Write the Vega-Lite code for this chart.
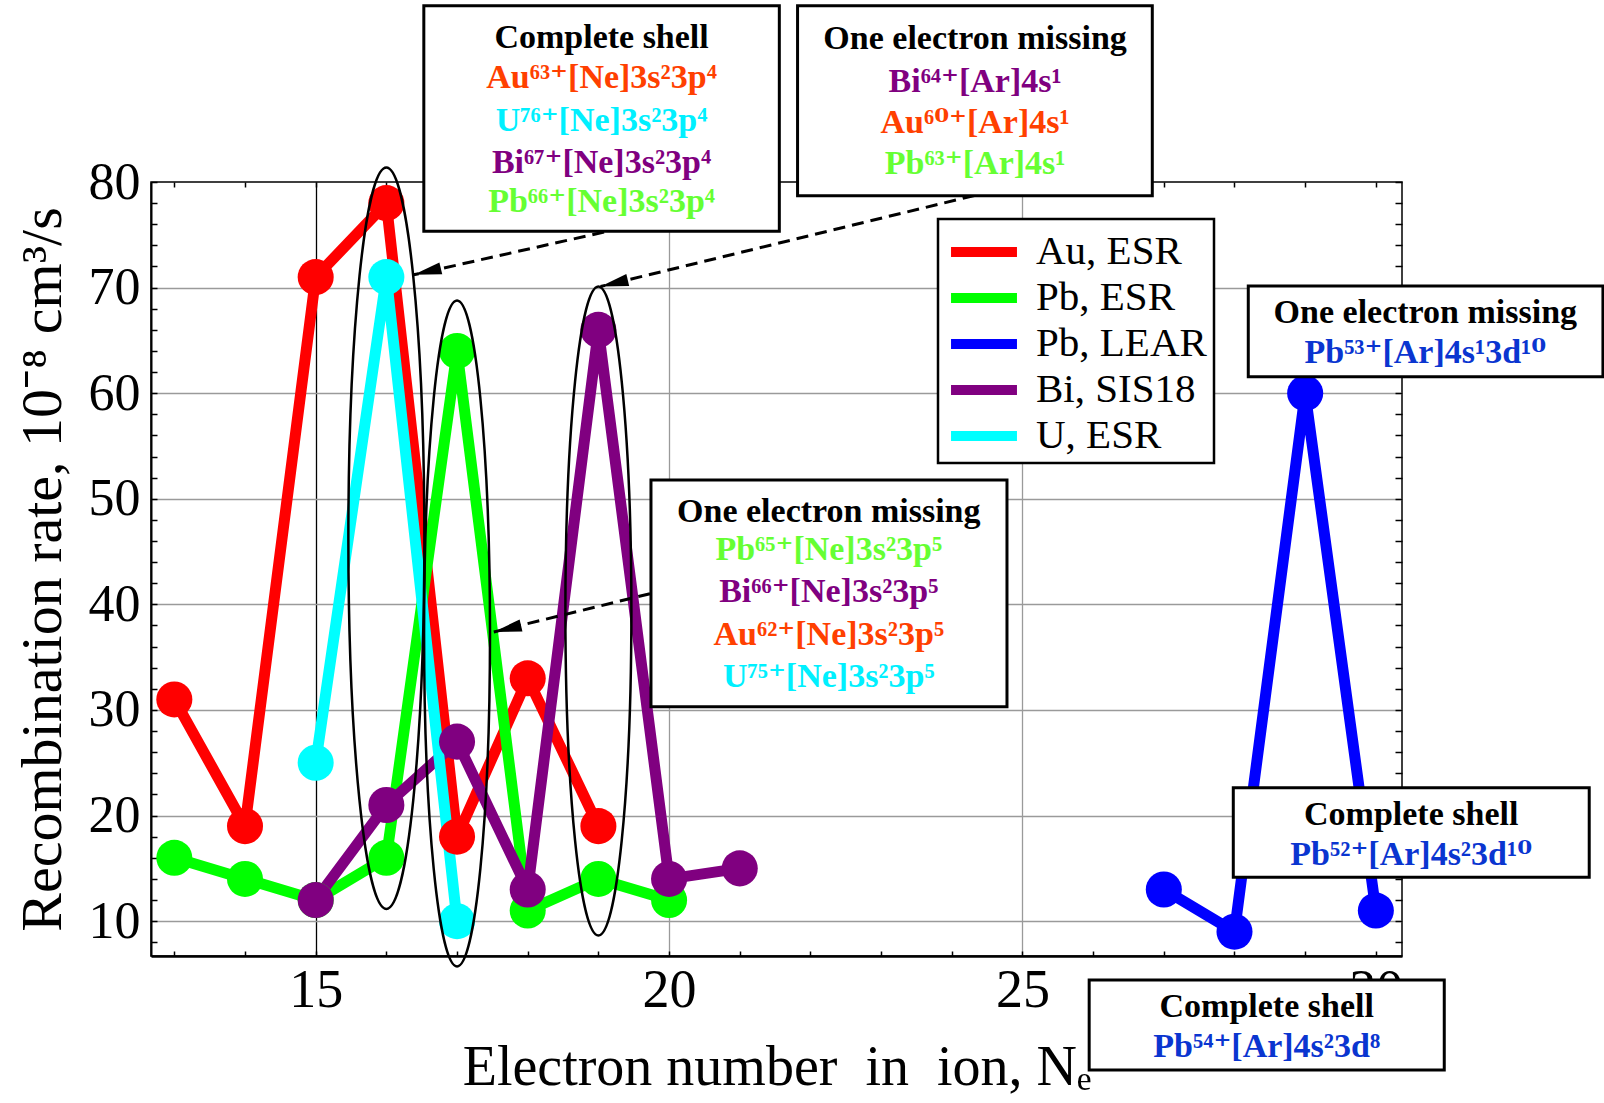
{
  "$schema": "https://vega.github.io/schema/vega-lite/v6.json",
  "width": 1251,
  "height": 774,
  "autosize": {"type": "none"},
  "padding": {"left": 151, "top": 182, "right": 202, "bottom": 147},
  "background": "white",
  "config": {
    "view": {"stroke": "black", "strokeWidth": 1.5},
    "font": "Liberation Serif",
    "legend": {"strokeWidth": 2.5}
  },
  "datasets": {
    "rates": [
      {"ne": 13, "rate": 31, "series": "Au, ESR"},
      {"ne": 14, "rate": 19, "series": "Au, ESR"},
      {"ne": 15, "rate": 71, "series": "Au, ESR"},
      {"ne": 16, "rate": 78, "series": "Au, ESR"},
      {"ne": 17, "rate": 18, "series": "Au, ESR"},
      {"ne": 18, "rate": 33, "series": "Au, ESR"},
      {"ne": 19, "rate": 19, "series": "Au, ESR"},
      {"ne": 13, "rate": 16, "series": "Pb, ESR"},
      {"ne": 14, "rate": 14, "series": "Pb, ESR"},
      {"ne": 15, "rate": 12, "series": "Pb, ESR"},
      {"ne": 16, "rate": 16, "series": "Pb, ESR"},
      {"ne": 17, "rate": 64, "series": "Pb, ESR"},
      {"ne": 18, "rate": 11, "series": "Pb, ESR"},
      {"ne": 19, "rate": 14, "series": "Pb, ESR"},
      {"ne": 20, "rate": 12, "series": "Pb, ESR"},
      {"ne": 27, "rate": 13, "series": "Pb, LEAR"},
      {"ne": 28, "rate": 9, "series": "Pb, LEAR"},
      {"ne": 29, "rate": 60, "series": "Pb, LEAR"},
      {"ne": 30, "rate": 11, "series": "Pb, LEAR"},
      {"ne": 15, "rate": 12, "series": "Bi, SIS18"},
      {"ne": 16, "rate": 21, "series": "Bi, SIS18"},
      {"ne": 17, "rate": 27, "series": "Bi, SIS18"},
      {"ne": 18, "rate": 13, "series": "Bi, SIS18"},
      {"ne": 19, "rate": 66, "series": "Bi, SIS18"},
      {"ne": 20, "rate": 14, "series": "Bi, SIS18"},
      {"ne": 21, "rate": 15, "series": "Bi, SIS18"},
      {"ne": 15, "rate": 25, "series": "U, ESR"},
      {"ne": 16, "rate": 71, "series": "U, ESR"},
      {"ne": 17, "rate": 10, "series": "U, ESR"}
    ],
    "boxes": [
      {"left": 16.53, "right": 21.56, "top": 96.7, "bottom": 75.33},
      {"left": 21.818, "right": 26.837, "top": 96.7, "bottom": 78.7},
      {"left": 19.744, "right": 24.781, "top": 51.78, "bottom": 30.31},
      {"left": 28.195, "right": 33.213, "top": 70.15, "bottom": 61.56},
      {"left": 27.983, "right": 33.019, "top": 22.64, "bottom": 14.15},
      {"left": 25.944, "right": 30.968, "top": 4.43, "bottom": -4.1}
    ],
    "notes": [
      {"cx": 19.045, "cy": 93.65, "ion": "head", "label": "Complete shell"},
      {"cx": 19.045, "cy": 89.88, "ion": "Au", "label": "Au⁶³⁺[Ne]3s²3p⁴"},
      {"cx": 19.045, "cy": 85.81, "ion": "U", "label": "U⁷⁶⁺[Ne]3s²3p⁴"},
      {"cx": 19.045, "cy": 81.83, "ion": "Bi", "label": "Bi⁶⁷⁺[Ne]3s²3p⁴"},
      {"cx": 19.045, "cy": 78.06, "ion": "Pb", "label": "Pb⁶⁶⁺[Ne]3s²3p⁴"},
      {"cx": 24.33, "cy": 93.55, "ion": "head", "label": "One electron missing"},
      {"cx": 24.33, "cy": 89.49, "ion": "Bi", "label": "Bi⁶⁴⁺[Ar]4s¹"},
      {"cx": 24.33, "cy": 85.61, "ion": "Au", "label": "Au⁶⁰⁺[Ar]4s¹"},
      {"cx": 24.33, "cy": 81.73, "ion": "Pb", "label": "Pb⁶³⁺[Ar]4s¹"},
      {"cx": 22.26, "cy": 48.78, "ion": "head", "label": "One electron missing"},
      {"cx": 22.26, "cy": 45.15, "ion": "Pb", "label": "Pb⁶⁵⁺[Ne]3s²3p⁵"},
      {"cx": 22.26, "cy": 41.2, "ion": "Bi", "label": "Bi⁶⁶⁺[Ne]3s²3p⁵"},
      {"cx": 22.26, "cy": 37.1, "ion": "Au", "label": "Au⁶²⁺[Ne]3s²3p⁵"},
      {"cx": 22.26, "cy": 33.15, "ion": "U", "label": "U⁷⁵⁺[Ne]3s²3p⁵"},
      {"cx": 30.7, "cy": 67.57, "ion": "head", "label": "One electron missing"},
      {"cx": 30.7, "cy": 63.78, "ion": "PbL", "label": "Pb⁵³⁺[Ar]4s¹3d¹⁰"},
      {"cx": 30.5, "cy": 20.05, "ion": "head", "label": "Complete shell"},
      {"cx": 30.5, "cy": 16.26, "ion": "PbL", "label": "Pb⁵²⁺[Ar]4s²3d¹⁰"},
      {"cx": 28.456, "cy": 1.9, "ion": "head", "label": "Complete shell"},
      {"cx": 28.456, "cy": -1.89, "ion": "PbL", "label": "Pb⁵⁴⁺[Ar]4s²3d⁸"}
    ],
    "arrows": [
      {"fromX": 19.08, "fromY": 75.26, "tipX": 16.385, "tipY": 71.21},
      {"fromX": 24.32, "fromY": 78.72, "tipX": 19.03, "tipY": 70.1},
      {"fromX": 19.73, "fromY": 41.01, "tipX": 17.52, "tipY": 37.39}
    ]
  },
  "resolve": {
    "scale": {"color": "independent"},
    "axis": {"x": "independent", "y": "independent"}
  },
  "layer": [
    {
      "data": {"name": "rates"},
      "mark": {"type": "line", "strokeWidth": 11, "strokeJoin": "round"},
      "encoding": {
        "x": {
          "field": "ne", "type": "quantitative",
          "scale": {"domain": [12.67, 30.37], "nice": false, "zero": false},
          "axis": {
            "orient": "bottom",
            "values": [13, 14, 15, 16, 17, 18, 19, 20, 21, 22, 23, 24, 25, 26, 27, 28, 29, 30],
            "labelExpr": "datum.value % 5 === 0 ? datum.label : ''",
            "title": "Electron number\u00a0\u00a0in\u00a0\u00a0ion, Nₑ",
            "titleFont": "Liberation Serif", "titleFontSize": 56, "titleFontWeight": "normal",
            "titleColor": "black", "titlePadding": 23,
            "labelFont": "Liberation Serif", "labelFontSize": 54, "labelColor": "black",
            "labelPadding": 12, "labelFlush": false, "labelOverlap": false,
            "tickSize": -5, "tickColor": "black", "tickWidth": 1.5,
            "domainColor": "black", "domainWidth": 2.5,
            "grid": true,
            "gridColor": {"condition": {"test": "datum.value === 15", "value": "black"}, "value": "#9a9a9a"},
            "gridOpacity": {"condition": {"test": "datum.value === 15 || datum.value === 20 || datum.value === 25", "value": 1}, "value": 0},
            "gridWidth": 1.3
          }
        },
        "y": {
          "field": "rate", "type": "quantitative",
          "scale": {"domain": [6.7, 80], "nice": false, "zero": false},
          "axis": {
            "orient": "left",
            "values": [8, 10, 12, 14, 16, 18, 20, 22, 24, 26, 28, 30, 32, 34, 36, 38, 40, 42, 44, 46, 48, 50, 52, 54, 56, 58, 60, 62, 64, 66, 68, 70, 72, 74, 76, 78, 80],
            "labelExpr": "datum.value % 10 === 0 ? datum.label : ''",
            "title": "Recombination rate, 10⁻⁸ cm³/s",
            "titleFont": "Liberation Serif", "titleFontSize": 58, "titleFontWeight": "normal",
            "titleColor": "black", "titlePadding": 16,
            "labelFont": "Liberation Serif", "labelFontSize": 52, "labelColor": "black",
            "labelPadding": 17, "labelFlush": false, "labelOverlap": false,
            "tickSize": -6, "tickColor": "black", "tickWidth": 1.5,
            "domainColor": "black", "domainWidth": 2,
            "grid": true, "gridColor": "#9a9a9a", "gridWidth": 1.3,
            "gridOpacity": {"condition": {"test": "datum.value % 10 === 0 && datum.value < 80", "value": 1}, "value": 0}
          }
        },
        "color": {
          "field": "series", "type": "nominal",
          "scale": {
            "domain": ["Au, ESR", "Pb, ESR", "Pb, LEAR", "Bi, SIS18", "U, ESR"],
            "range": ["#ff0000", "#00ff00", "#0000ff", "#800080", "#00ffff"]
          },
          "legend": {
            "orient": "none", "legendX": 787, "legendY": 37,
            "title": null,
            "symbolType": "M-1.57,0L1.57,0", "symbolSize": 1764, "symbolStrokeWidth": 10,
            "symbolOffset": 13,
            "labelFont": "Liberation Serif", "labelFontSize": 41, "labelColor": "black",
            "labelLimit": 400, "labelOffset": 26,
            "fillColor": "white", "strokeColor": "black",
            "padding": 7, "rowPadding": 0
          }
        }
      }
    },
    {
      "data": {"name": "rates"},
      "mark": {"type": "point", "filled": true, "shape": "circle", "size": 1300, "opacity": 1},
      "encoding": {
        "x": {"field": "ne", "type": "quantitative", "scale": {"domain": [12.67, 30.37], "nice": false, "zero": false}, "axis": null},
        "y": {"field": "rate", "type": "quantitative", "scale": {"domain": [6.7, 80], "nice": false, "zero": false}, "axis": null},
        "fill": {
          "field": "series", "type": "nominal",
          "scale": {
            "domain": ["Au, ESR", "Pb, ESR", "Pb, LEAR", "Bi, SIS18", "U, ESR"],
            "range": ["#ff0000", "#00ff00", "#0000ff", "#800080", "#00ffff"]
          },
          "legend": null
        }
      }
    },
    {
      "data": {"values": [{"ne": 16, "rate": 46.26}]},
      "mark": {"type": "point", "filled": false, "color": "black", "strokeWidth": 2.5, "opacity": 1, "size": 549674,
        "shape": "M0,-1C0.0566,-1,0.1025,-0.5523,0.1025,0C0.1025,0.5523,0.0566,1,0,1C-0.0566,1,-0.1025,0.5523,-0.1025,0C-0.1025,-0.5523,-0.0566,-1,0,-1Z"},
      "encoding": {
        "x": {"field": "ne", "type": "quantitative", "scale": {"domain": [12.67, 30.37], "nice": false, "zero": false}, "axis": null},
        "y": {"field": "rate", "type": "quantitative", "scale": {"domain": [6.7, 80], "nice": false, "zero": false}, "axis": null}
      }
    },
    {
      "data": {"values": [{"ne": 17, "rate": 37.24}]},
      "mark": {"type": "point", "filled": false, "color": "black", "strokeWidth": 2.5, "opacity": 1, "size": 443556,
        "shape": "M0,-1C0.0547,-1,0.099,-0.5523,0.099,0C0.099,0.5523,0.0547,1,0,1C-0.0547,1,-0.099,0.5523,-0.099,0C-0.099,-0.5523,-0.0547,-1,0,-1Z"},
      "encoding": {
        "x": {"field": "ne", "type": "quantitative", "scale": {"domain": [12.67, 30.37], "nice": false, "zero": false}, "axis": null},
        "y": {"field": "rate", "type": "quantitative", "scale": {"domain": [6.7, 80], "nice": false, "zero": false}, "axis": null}
      }
    },
    {
      "data": {"values": [{"ne": 19, "rate": 39.37}]},
      "mark": {"type": "point", "filled": false, "color": "black", "strokeWidth": 2.5, "opacity": 1, "size": 421201,
        "shape": "M0,-1C0.0562,-1,0.1017,-0.5523,0.1017,0C0.1017,0.5523,0.0562,1,0,1C-0.0562,1,-0.1017,0.5523,-0.1017,0C-0.1017,-0.5523,-0.0562,-1,0,-1Z"},
      "encoding": {
        "x": {"field": "ne", "type": "quantitative", "scale": {"domain": [12.67, 30.37], "nice": false, "zero": false}, "axis": null},
        "y": {"field": "rate", "type": "quantitative", "scale": {"domain": [6.7, 80], "nice": false, "zero": false}, "axis": null}
      }
    },
    {
      "data": {"name": "arrows"},
      "mark": {"type": "rule", "color": "black", "strokeWidth": 3, "strokeDash": [12, 7]},
      "encoding": {
        "x": {"field": "fromX", "type": "quantitative", "scale": {"domain": [12.67, 30.37], "nice": false, "zero": false}, "axis": null},
        "y": {"field": "fromY", "type": "quantitative", "scale": {"domain": [6.7, 80], "nice": false, "zero": false}, "axis": null},
        "x2": {"field": "tipX"},
        "y2": {"field": "tipY"}
      }
    },
    {
      "data": {"name": "arrows"},
      "mark": {"type": "point", "filled": true, "color": "black", "opacity": 1, "size": 3136, "angle": -13.3,
        "shape": "M0,0L1,-0.22L1,0.22Z"},
      "encoding": {
        "x": {"field": "tipX", "type": "quantitative", "scale": {"domain": [12.67, 30.37], "nice": false, "zero": false}, "axis": null},
        "y": {"field": "tipY", "type": "quantitative", "scale": {"domain": [6.7, 80], "nice": false, "zero": false}, "axis": null}
      }
    },
    {
      "data": {"name": "boxes"},
      "mark": {"type": "rect", "fill": "white", "stroke": "black", "strokeWidth": 3},
      "encoding": {
        "x": {"field": "left", "type": "quantitative", "scale": {"domain": [12.67, 30.37], "nice": false, "zero": false}, "axis": null},
        "x2": {"field": "right"},
        "y": {"field": "top", "type": "quantitative", "scale": {"domain": [6.7, 80], "nice": false, "zero": false}, "axis": null},
        "y2": {"field": "bottom"}
      }
    },
    {
      "data": {"name": "notes"},
      "mark": {"type": "text", "font": "'Liberation Serif', 'DejaVu Serif', serif", "fontWeight": "bold", "fontSize": 34, "align": "center", "baseline": "middle"},
      "encoding": {
        "x": {"field": "cx", "type": "quantitative", "scale": {"domain": [12.67, 30.37], "nice": false, "zero": false}, "axis": null},
        "y": {"field": "cy", "type": "quantitative", "scale": {"domain": [6.7, 80], "nice": false, "zero": false}, "axis": null},
        "text": {"field": "label"},
        "color": {
          "field": "ion", "type": "nominal",
          "scale": {
            "domain": ["head", "Au", "U", "Bi", "Pb", "PbL"],
            "range": ["#000000", "#ff4000", "#00f0ff", "#800080", "#66ff33", "#0a35d0"]
          },
          "legend": null
        }
      }
    },
    {
      "data": {"name": "rates"},
      "mark": {"type": "point", "opacity": 0},
      "encoding": {
        "x": {
          "field": "ne", "type": "quantitative",
          "scale": {"domain": [12.67, 30.37], "nice": false, "zero": false},
          "axis": {
            "orient": "top", "title": null, "labels": false, "domain": false, "grid": false,
            "values": [13, 14, 15, 16, 17, 18, 19, 20, 21, 22, 23, 24, 25, 26, 27, 28, 29, 30],
            "tickSize": -5, "tickColor": "black", "tickWidth": 1.5
          }
        },
        "y": {
          "field": "rate", "type": "quantitative",
          "scale": {"domain": [6.7, 80], "nice": false, "zero": false},
          "axis": {
            "orient": "right", "title": null, "labels": false, "domain": false, "grid": false,
            "values": [8, 10, 12, 14, 16, 18, 20, 22, 24, 26, 28, 30, 32, 34, 36, 38, 40, 42, 44, 46, 48, 50, 52, 54, 56, 58, 60, 62, 64, 66, 68, 70, 72, 74, 76, 78, 80],
            "tickSize": -7, "tickColor": "black", "tickWidth": 1.5
          }
        }
      }
    }
  ]
}
